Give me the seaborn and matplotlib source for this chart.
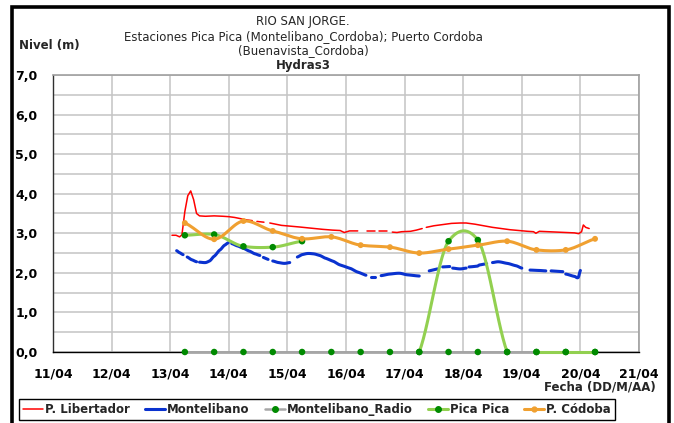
import numpy as np
import pandas as pd
import matplotlib
matplotlib.use("Agg")
import matplotlib.pyplot as plt
import seaborn as sns
from matplotlib.lines import Line2D
from matplotlib.patches import Rectangle

nan = np.nan

# ---- data -------------------------------------------------------------
day_ticks = [11, 12, 13, 14, 15, 16, 17, 18, 19, 20, 21]
day_labels = ["11/04", "12/04", "13/04", "14/04", "15/04", "16/04",
              "17/04", "18/04", "19/04", "20/04", "21/04"]
level_ticks = [0, 1, 2, 3, 4, 5, 6, 7]
level_labels = ["0,0", "1,0", "2,0", "3,0", "4,0", "5,0", "6,0", "7,0"]

# twice-daily readings (06:00 and 18:00)
obs_t = [13.25, 13.75, 14.25, 14.75, 15.25, 15.75, 16.25, 16.75,
         17.25, 17.75, 18.25, 18.75, 19.25, 19.75, 20.25]
cordoba = [3.26, 2.85, 3.31, 3.06, 2.86, 2.91, 2.70, 2.65,
           2.50, 2.60, 2.70, 2.80, 2.58, 2.58, 2.86]
radio = [0.0] * 15

pica_t = [13.25, 13.75, 14.25, 14.75, 15.25, 15.75, 16.25, 16.75,
          17.25, 17.75, 18.25, 18.75, 19.0, 19.25, 19.75, 20.25]
pica = [2.95, 2.97, 2.67, 2.65, 2.80, nan, nan, nan,
        0.0, 2.80, 2.83, 0.0, nan, 0.0, 0.0, 0.0]

# automatic station records (nan = missing record)
libertador_t = [13.03, 13.10, 13.16, 13.20, 13.25, 13.30, 13.35, 13.40, 13.45,
                13.50, 13.60, 13.75, 13.90, 14.00, 14.10, 14.20, 14.30, 14.40,
                14.44, 14.48, 14.60, 14.64, 14.70, 14.80, 14.90, 15.05, 15.20,
                15.40, 15.60, 15.77, 15.90, 15.97, 16.06, 16.20, 16.27, 16.35,
                16.49, 16.53, 16.57, 16.70, 16.75, 16.79, 16.87, 16.95, 17.10,
                17.20, 17.30, 17.33, 17.37, 17.50, 17.65, 17.80, 17.95, 18.05,
                18.20, 18.35, 18.50, 18.65, 18.80, 18.95, 19.10, 19.20, 19.24,
                19.30, 19.45, 19.60, 19.75, 19.90, 19.97, 20.02, 20.05, 20.09,
                20.15]
libertador = [2.95, 2.95, 2.91, 2.96, 3.55, 3.95, 4.07, 3.85, 3.50,
              3.44, 3.43, 3.44, 3.43, 3.42, 3.40, 3.37, 3.34, 3.32,
              nan, 3.30, 3.28, nan, 3.26, 3.23, 3.20, 3.18, 3.16,
              3.13, 3.10, 3.08, 3.07, 3.02, 3.06, 3.06, nan, 3.06,
              3.06, nan, 3.05, 3.05, nan, 3.03, 3.02, 3.04, 3.05,
              3.08, 3.12, nan, 3.15, 3.19, 3.22, 3.25, 3.26, 3.26,
              3.23, 3.19, 3.15, 3.12, 3.09, 3.07, 3.05, 3.04, 3.00,
              3.05, 3.04, 3.03, 3.02, 3.01, 2.99, 3.04, 3.21, 3.15,
              3.12]

montelibano_t = [13.11, 13.16, 13.22, 13.25, 13.29, 13.37, 13.45, 13.48, 13.50,
                 13.60, 13.67, 13.75, 13.85, 13.93, 13.99, 14.02, 14.05, 14.15,
                 14.25, 14.35, 14.45, 14.53, 14.56, 14.59, 14.67, 14.71, 14.75,
                 14.85, 14.95, 15.04, 15.10, 15.17, 15.25, 15.35, 15.45, 15.55,
                 15.65, 15.77, 15.90, 16.06, 16.20, 16.34, 16.37, 16.42, 16.50,
                 16.55, 16.60, 16.75, 16.91, 17.05, 17.25, 17.35, 17.42, 17.56,
                 17.60, 17.65, 17.77, 17.80, 17.82, 17.95, 18.05, 18.08, 18.10,
                 18.24, 18.28, 18.40, 18.45, 18.50, 18.60, 18.75, 18.90, 19.00,
                 19.07, 19.14, 19.30, 19.41, 19.46, 19.50, 19.70, 19.72, 19.75,
                 19.90, 19.96, 20.00]
montelibano = [2.56, 2.51, 2.46, nan, 2.40, 2.33, 2.28, nan, 2.27,
               2.26, 2.30, 2.42, 2.58, 2.70, 2.76, nan, 2.74, 2.68,
               2.62, 2.55, 2.48, 2.44, nan, 2.39, 2.34, nan, 2.30,
               2.26, 2.24, 2.26, nan, 2.40, 2.46, 2.49, 2.48, 2.44,
               2.37, 2.30, 2.20, 2.12, 2.02, 1.94, nan, 1.90, 1.90,
               nan, 1.93, 1.97, 1.99, 1.95, 1.92, nan, 2.05, 2.10,
               nan, 2.15, 2.16, nan, 2.12, 2.10, 2.12, nan, 2.15,
               2.17, 2.20, 2.23, nan, 2.26, 2.28, 2.24, 2.18, 2.12,
               nan, 2.07, 2.06, 2.05, nan, 2.05, 2.03, nan, 1.97,
               1.91, 1.88, 2.06]

# ---- helpers ----------------------------------------------------------
def segments(t, v):
    """Split a series into runs of valid values."""
    runs, cur = [], []
    for ti, vi in zip(t, v):
        if np.isnan(vi):
            if cur:
                runs.append(cur)
            cur = []
        else:
            cur.append((ti, vi))
    if cur:
        runs.append(cur)
    return [np.array(r) for r in runs]


def smooth_run(run, s=0.75, n=14):
    """Cubic Hermite curve through the points (spreadsheet style smoothing)."""
    t, v = run[:, 0], run[:, 1]
    if len(t) < 3:
        return t, v
    m = np.empty_like(v)
    m[1:-1] = (v[2:] - v[:-2]) / (t[2:] - t[:-2])
    m[0] = (v[1] - v[0]) / (t[1] - t[0])
    m[-1] = (v[-1] - v[-2]) / (t[-1] - t[-2])
    m *= s
    xs, ys = [], []
    u = np.linspace(0, 1, n, endpoint=False)
    h00 = 2 * u**3 - 3 * u**2 + 1
    h10 = u**3 - 2 * u**2 + u
    h01 = -2 * u**3 + 3 * u**2
    h11 = u**3 - u**2
    for i in range(len(t) - 1):
        h = t[i + 1] - t[i]
        xs.append(t[i] + u * h)
        ys.append(h00 * v[i] + h10 * h * m[i] + h01 * v[i + 1] + h11 * h * m[i + 1])
    xs.append([t[-1]])
    ys.append([v[-1]])
    return np.concatenate(xs), np.concatenate(ys)


def curve_frame(t, v, smooth=True, s=0.75):
    parts = []
    for k, run in enumerate(segments(t, v)):
        if smooth:
            x, y = smooth_run(run, s=s)
        else:
            x, y = run[:, 0], run[:, 1]
        parts.append(pd.DataFrame({"t": x, "v": y, "seg": k}))
    return pd.concat(parts, ignore_index=True)


# ---- figure -----------------------------------------------------------
sns.set_theme(style="white")
plt.rcParams["font.family"] = ["DejaVu Sans"]

W, H = 674, 423
fig = plt.figure(figsize=(W / 100, H / 100), dpi=100)
fig.patch.set_facecolor("white")
ax = fig.add_axes([53 / W, 1 - 352 / H, (639 - 53) / W, (352 - 75) / H])

RED = "#FF0000"
BLUE = "#0A32CF"
GRAY = "#A6A6A6"
LGREEN = "#92D050"
DGREEN = "#008A00"
ORANGE = "#F0A030"

# grid
ax.set_xlim(11, 21)
ax.set_ylim(0, 7)
ax.set_xticks(day_ticks)
ax.set_xticklabels(day_labels, fontsize=9, fontweight="bold")
ax.set_yticks(level_ticks)
ax.set_yticklabels(level_labels, fontsize=9, fontweight="bold")
ax.set_yticks(np.arange(0.5, 7, 1.0), minor=True)
ax.grid(True, which="both", axis="y", color="#C4C4C4", lw=1.1)
ax.grid(True, which="major", axis="x", color="#C4C4C4", lw=1.1)
ax.set_axisbelow(True)
ax.tick_params(axis="both", which="major", direction="out", length=4,
               width=1, color="black", pad=7, labelcolor="black")
ax.tick_params(axis="y", which="minor", length=0)
for side in ("top", "right"):
    ax.spines[side].set_color("#A0A0A0")
    ax.spines[side].set_linewidth(1.2)
ax.spines["left"].set_color("#303030")
ax.spines["bottom"].set_color("black")
ax.spines["left"].set_linewidth(1.0)
ax.spines["bottom"].set_linewidth(1.0)

# series
sns.lineplot(data=curve_frame(libertador_t, libertador, smooth=False),
             x="t", y="v", units="seg", estimator=None, sort=False,
             color=RED, lw=1.1, ax=ax, zorder=3)
sns.lineplot(data=curve_frame(montelibano_t, montelibano, s=0.6),
             x="t", y="v", units="seg", estimator=None, sort=False,
             color=BLUE, lw=2.2, ax=ax, zorder=3)
sns.lineplot(data=curve_frame(obs_t, radio, smooth=False),
             x="t", y="v", units="seg", estimator=None, sort=False,
             color=GRAY, lw=1.8, ax=ax, clip_on=False, zorder=3.1)
sns.lineplot(data=curve_frame(pica_t, pica, s=0.7),
             x="t", y="v", units="seg", estimator=None, sort=False,
             color=LGREEN, lw=2.2, ax=ax, clip_on=False, zorder=3.2)
sns.lineplot(data=curve_frame(obs_t, cordoba, s=0.75),
             x="t", y="v", units="seg", estimator=None, sort=False,
             color=ORANGE, lw=2.2, ax=ax, zorder=3.3)

sns.scatterplot(x=obs_t, y=radio, color=DGREEN, s=22, edgecolor="none",
                ax=ax, clip_on=False, zorder=5)
pica_arr = np.array(pica)
pica_tarr = np.array(pica_t)
ok = ~np.isnan(pica_arr)
sns.scatterplot(x=pica_tarr[ok], y=pica_arr[ok], color=DGREEN, s=22,
                edgecolor="none", ax=ax, clip_on=False, zorder=5)
sns.scatterplot(x=obs_t, y=cordoba, color=ORANGE, s=18, edgecolor="none",
                ax=ax, zorder=6)

ax.set_xlabel("")
ax.set_ylabel("")

# titles
cx = 303 / W
fig.text(cx, 1 - 22 / H, "RIO SAN JORGE.", ha="center", va="center", fontsize=8.5)
fig.text(cx, 1 - 37 / H, "Estaciones Pica Pica (Montelibano_Cordoba); Puerto Cordoba",
         ha="center", va="center", fontsize=8.5)
fig.text(cx, 1 - 51 / H, "(Buenavista_Cordoba)", ha="center", va="center", fontsize=8.5)
fig.text(cx, 1 - 65 / H, "Hydras3", ha="center", va="center", fontsize=8.5,
         fontweight="bold")
fig.text(19 / W, 1 - 45 / H, "Nivel (m)", ha="left", va="center", fontsize=8.5,
         fontweight="bold")
fig.text(656 / W, 1 - 387 / H, "Fecha (DD/M/AA)", ha="right", va="center",
         fontsize=8.5, fontweight="bold")

# legend
handles = [
    Line2D([], [], color=RED, lw=1.1),
    Line2D([], [], color=BLUE, lw=2.2),
    Line2D([], [], color=GRAY, lw=1.8, marker="o", ms=4, mfc=DGREEN, mec=DGREEN),
    Line2D([], [], color=LGREEN, lw=2.2, marker="o", ms=4, mfc=DGREEN, mec=DGREEN),
    Line2D([], [], color=ORANGE, lw=2.2, marker="o", ms=3.5, mfc=ORANGE, mec=ORANGE),
]
labels = ["P. Libertador", "Montelibano", "Montelibano_Radio", "Pica Pica", "P. Códoba"]
leg = fig.legend(handles, labels, loc="center", bbox_to_anchor=(317 / W, 1 - 409.5 / H),
                 ncol=5, frameon=True, fancybox=False, edgecolor="black",
                 framealpha=1, handlelength=1.7, handletextpad=0.15,
                 columnspacing=1.3, borderpad=0.35,
                 prop={"size": 8.5, "weight": "bold"})
leg.get_frame().set_linewidth(1.0)

# outer frame
fig.patches.append(Rectangle((12 / W, -0.05), (669 - 12) / W, 1.05 - 7 / H,
                             transform=fig.transFigure, fill=False,
                             ec="black", lw=2.6, clip_on=False))

fig.savefig("out.png", dpi=100)
